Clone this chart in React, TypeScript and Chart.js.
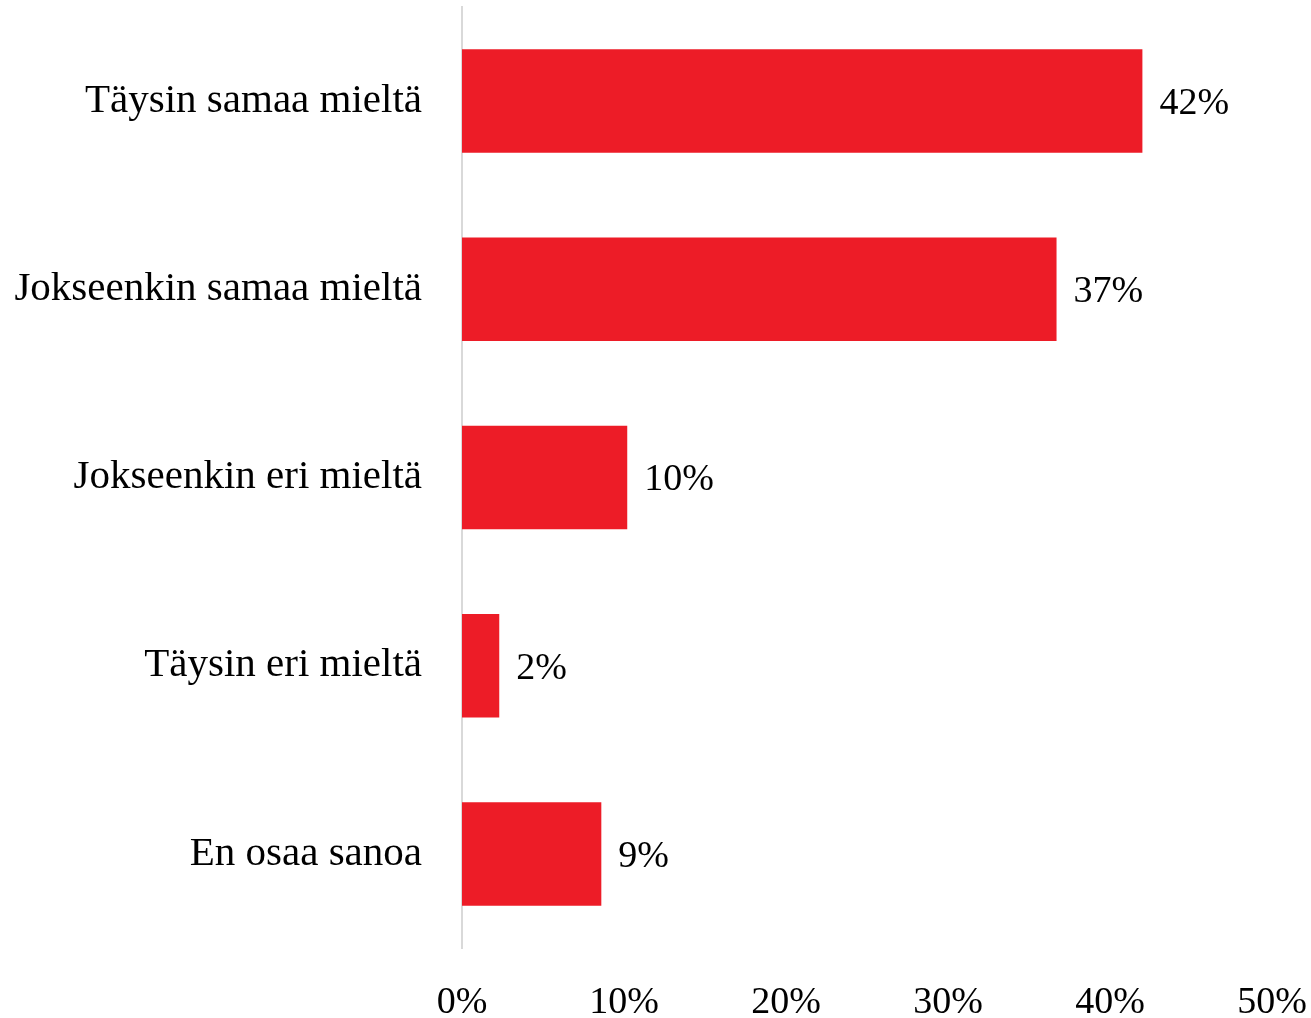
import React, { useEffect, useRef } from "react";
import { Chart, registerables } from "chart.js";

Chart.register(...registerables);

const categories = [
  "Täysin samaa mieltä",
  "Jokseenkin samaa mieltä",
  "Jokseenkin eri mieltä",
  "Täysin eri mieltä",
  "En osaa sanoa",
];
const values = [42.0, 36.7, 10.2, 2.3, 8.6];
const xTicks = [0, 10, 20, 30, 40, 50];

const FONT = "'Liberation Serif', 'Times New Roman', serif";
const RED = "#ED1C27";

const valueLabels = {
  id: "valueLabels",
  afterDatasetsDraw(chart: any) {
    const ctx = chart.ctx;
    const meta = chart.getDatasetMeta(0);
    ctx.save();
    ctx.font = `38px ${FONT}`;
    ctx.fillStyle = "#000";
    ctx.textAlign = "left";
    ctx.textBaseline = "middle";
    meta.data.forEach((bar: any, i: number) => {
      const v = chart.data.datasets[0].data[i] as number;
      ctx.fillText(`${Math.round(v)}%`, bar.x + 17, bar.y + 3);
    });
    ctx.restore();
  },
};

export default function App() {
  const ref = useRef<HTMLCanvasElement | null>(null);
  useEffect(() => {
    if (!ref.current) return;
    const chart = new Chart(ref.current, {
      type: "bar",
      data: {
        labels: categories,
        datasets: [
          {
            data: values,
            backgroundColor: RED,
            borderWidth: 0,
            barPercentage: 0.55,
            categoryPercentage: 1,
          },
        ],
      },
      options: {
        indexAxis: "y",
        animation: false,
        responsive: true,
        maintainAspectRatio: false,
        layout: { padding: { top: 7, right: 39, bottom: 0, left: 0 } },
        plugins: {
          legend: { display: false },
          tooltip: { enabled: false },
        },
        scales: {
          x: {
            min: 0,
            max: 50,
            afterBuildTicks: (scale: any) => {
              scale.ticks = xTicks.map((v) => ({ value: v }));
            },
            afterFit: (scale: any) => {
              scale.height = 70;
            },
            grid: { display: false, drawTicks: true, tickLength: 32 },
            border: { display: false },
            ticks: {
              padding: 0,
              color: "#000",
              font: { family: FONT, size: 38 },
              callback: (v: any) => `${v}%`,
              maxRotation: 0,
            },
          },
          y: {
            afterFit: (scale: any) => {
              scale.width = 462;
            },
            grid: { display: false, drawTicks: true, tickLength: 40 },
            border: { display: true, color: "#D9D9D9", width: 2 },
            ticks: {
              padding: 0,
              color: "#000",
              font: { family: FONT, size: 41, lineHeight: 0.3 },
            },
          },
        },
      },
      plugins: [valueLabels],
    });
    return () => chart.destroy();
  }, []);
  return (
    <div style={{ position: "fixed", left: 0, top: 0, width: 1311, height: 1018, background: "#fff" }}>
      <canvas ref={ref} />
    </div>
  );
}
